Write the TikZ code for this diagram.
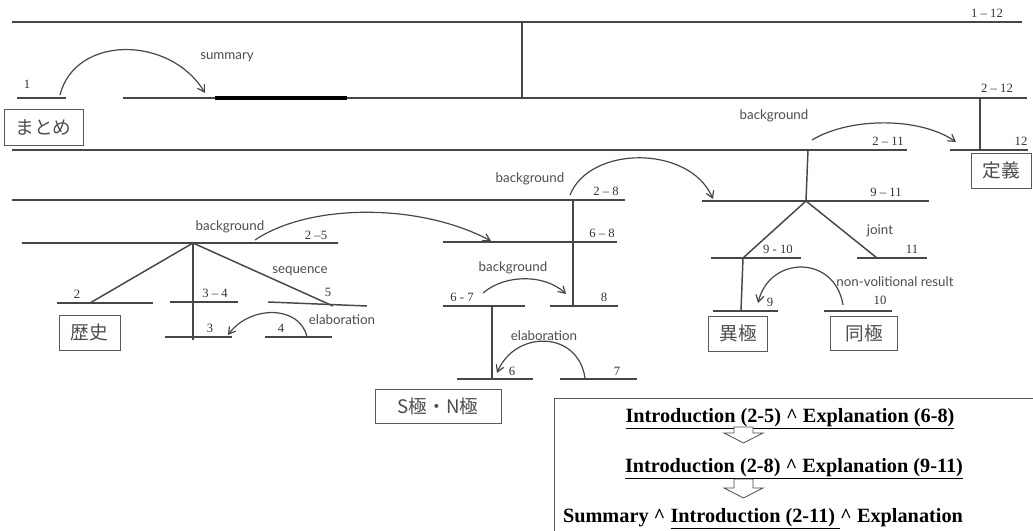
\documentclass[tikz,border=0pt]{standalone}
\usepackage{fontspec}
\setmainfont{Liberation Serif}
\newfontfamily\cjk{Noto Sans CJK JP}
\newfontfamily\lbl{Lato}
\usetikzlibrary{arrows.meta}
\begin{document}
\begin{tikzpicture}[x=0.75pt,y=-0.75pt,
  seg/.style={draw=black!72, line width=1.1pt},
  rel/.style={draw=black!72, line width=0.9pt, -{Straight Barb[length=5pt,width=6pt]}},
  relname/.style={font=\lbl\fontsize{10}{11}\selectfont, text=black!70, inner sep=0pt},
  spanlab/.style={font=\fontsize{9.5}{10}\selectfont, text=black!80, inner sep=0pt, anchor=base},
  jbox/.style={draw=black!65, line width=0.7pt, font=\cjk\fontsize{14}{16}\selectfont, text=black!70, inner sep=0pt},
  hollow/.style={draw=black!70, line width=0.6pt, fill=white},
  summ/.style={font=\bfseries\fontsize{15.2}{17}\selectfont, inner sep=0pt, anchor=base}
  ]
\useasboundingbox (0,0) rectangle (1033,531);

% ---------- level 1-12 ----------
\draw[seg] (12,22) -- (1022,22);
\node[spanlab] (s112) at (987,18) {1 -- 12};
\coordinate (top) at (522,22);
\coordinate (topb) at (522,98);
\draw[seg] (top) -- (topb);

% ---------- 1 and 2-12 ----------
\draw[seg] (17,98) -- (66,98);
\node[spanlab] (s1) at (27,89) {1};
\draw[seg] (123,98) -- (1027,98);
\draw[line width=2.4pt, black] (215,98) -- (347,98);
\node[spanlab] (s212) at (997,93) {2 -- 12};
\coordinate (sumA) at (60,95);
\coordinate (sumB) at (205,93);
\draw[rel] (sumA) .. controls (75,35) and (170,35) .. (sumB);
\node[relname] (rsum) at (227,57) {summary};
\node[jbox, minimum width=59.25pt, minimum height=27pt] (matome) at (43.5,127.5) {まとめ};

% ---------- 2-11 and 12 ----------
\draw[seg] (12,150) -- (907,150);
\node[spanlab] (s211) at (888,146) {2 -- 11};
\draw[seg] (950,150) -- (1028,150);
\node[spanlab] (s12) at (1021,146) {12};
\coordinate (n212) at (980,98);
\coordinate (n12) at (980,150);
\draw[seg] (n212) -- (n12);
\coordinate (bgA) at (812,140);
\coordinate (bgB) at (956,142);
\draw[rel] (bgA) .. controls (850,117) and (920,117) .. (bgB);
\node[relname] (rbg1) at (774,116) {background};
\node[jbox, minimum width=45pt, minimum height=26.25pt] (teigi) at (1001,170.5) {定義};

% ---------- 2-8 ----------
\draw[seg] (12,200) -- (625,200);
\node[spanlab] (s28) at (606,196) {2 -- 8};
\coordinate (bg2A) at (570,195);
\coordinate (bg2B) at (713,199);
\draw[rel] (bg2A) .. controls (590,145) and (690,145) .. (bg2B);
\node[relname] (rbg2) at (530,179) {background};

% ---------- 9-11 subtree ----------
\coordinate (r211) at (808,150);
\coordinate (r911) at (806,201);
\draw[seg] (r211) -- (r911);
\draw[seg] (702,201) -- (929,201);
\node[spanlab] (s911) at (886,197) {9 -- 11};
\coordinate (r910) at (743,258);
\coordinate (r11) at (877,258);
\draw[seg] (r911) -- (r910);
\draw[seg] (r911) -- (r11);
\node[relname] (rjoint) at (880,231) {joint};
\draw[seg] (711,258) -- (801,258);
\node[spanlab] (s910) at (778,254) {9 - 10};
\draw[seg] (857,258) -- (927,258);
\node[spanlab] (s11) at (912,254) {11};
\coordinate (r9) at (741,311);
\draw[seg] (r910) -- (r9);
\draw[seg] (713,311) -- (778,311);
\node[spanlab] (s9) at (770,307) {9};
\draw[seg] (824,311) -- (892,311);
\node[spanlab] (s10) at (880,305) {10};
\coordinate (nvA) at (843,305);
\coordinate (nvB) at (758,303);
\draw[rel] (nvA) .. controls (835,255) and (770,255) .. (nvB);
\node[relname] (rnv) at (895,282) {non-volitional result};
\node[jbox, minimum width=44.25pt, minimum height=26.25pt] (iky) at (738,333.5) {異極};
\node[jbox, minimum width=50.25pt, minimum height=25.5pt] (dky) at (864,333.5) {同極};

% ---------- 2-5 subtree ----------
\draw[seg] (22,243) -- (338,243);
\node[spanlab] (s25) at (316,240) {2 --5};
\node[relname] (rbg3) at (230,227) {background};
\coordinate (r25) at (193,243);
\coordinate (r2) at (90,303);
\coordinate (r34) at (193,340);
\coordinate (r5) at (333,306);
\draw[seg] (r25) -- (r2);
\draw[seg] (r25) -- (r34);
\draw[seg] (r25) -- (r5);
\node[relname] (rseq) at (300,271) {sequence};
\draw[seg] (57,303) -- (153,303);
\node[spanlab] (s2) at (77,299) {2};
\draw[seg] (170,302) -- (238,302);
\node[spanlab] (s34) at (215,298) {3 -- 4};
\draw[seg] (268,302) -- (367,306);
\node[spanlab] (s5) at (328,297) {5};
\draw[seg] (165,337) -- (232,337);
\node[spanlab] (s3) at (210,333) {3};
\draw[seg] (265,337) -- (332,337);
\node[spanlab] (s4) at (281,333) {4};
\coordinate (el1A) at (307,337);
\coordinate (el1B) at (228,335);
\draw[rel] (el1A) .. controls (300,305) and (250,305) .. (el1B);
\node[relname] (rel1) at (342,320) {elaboration};
\node[jbox, minimum width=45.75pt, minimum height=26.25pt] (reki) at (89.5,332.5) {歴史};

% background 2-5 -> 6-8
\coordinate (bg3A) at (255,240);
\coordinate (bg3B) at (491,241);
\draw[rel] (bg3A) .. controls (310,203) and (420,203) .. (bg3B);

% ---------- 6-8 subtree ----------
\draw[seg] (443,242) -- (617,242);
\node[spanlab] (s68) at (602,238) {6 -- 8};
\coordinate (r28) at (573,200);
\coordinate (r8) at (573,306);
\draw[seg] (r28) -- (r8);
\draw[seg] (443,306) -- (525,306);
\node[spanlab] (s67) at (462,302) {6 - 7};
\draw[seg] (550,306) -- (618,306);
\node[spanlab] (s8) at (604,302) {8};
\coordinate (bg4A) at (483,293);
\coordinate (bg4B) at (566,294);
\draw[rel] (bg4A) .. controls (505,274) and (545,274) .. (bg4B);
\node[relname] (rbg4) at (513,268) {background};
\coordinate (r67) at (492,306);
\coordinate (r6) at (492,379);
\draw[seg] (r67) -- (r6);
\draw[seg] (457,379) -- (533,379);
\node[spanlab] (s6) at (512,375) {6};
\draw[seg] (560,379) -- (637,379);
\node[spanlab] (s7) at (617,375) {7};
\coordinate (el2A) at (585,378);
\coordinate (el2B) at (497,373);
\draw[rel] (el2A) .. controls (578,330) and (515,330) .. (el2B);
\node[relname] (rel2) at (544,336) {elaboration};
\node[jbox, minimum width=94.5pt, minimum height=25.5pt] (snk) at (438,406) {S極・N極};

% ---------- summary box ----------
\draw[draw=black!65, line width=0.7pt] (554,540) -- (554,398) -- (1040,398);
\node[summ] (t1) at (790,422) {\underline{Introduction (2-5) \textasciicircum{} Explanation (6-8)}};
\node[summ] (t2) at (794,472) {\underline{Introduction (2-8) \textasciicircum{} Explanation (9-11)}};
\node[summ] (t3) at (763,522) {Summary \textasciicircum{} \underline{Introduction (2-11) }\textasciicircum{} Explanation};
\draw[hollow] (734,427) -- (753,427) -- (753,433) -- (763,433) -- (743.5,443) -- (724,433) -- (734,433) -- cycle;
\draw[hollow] (734,479) -- (753,479) -- (753,488) -- (763,488) -- (743.5,498) -- (724,488) -- (734,488) -- cycle;
\end{tikzpicture}
\end{document}
